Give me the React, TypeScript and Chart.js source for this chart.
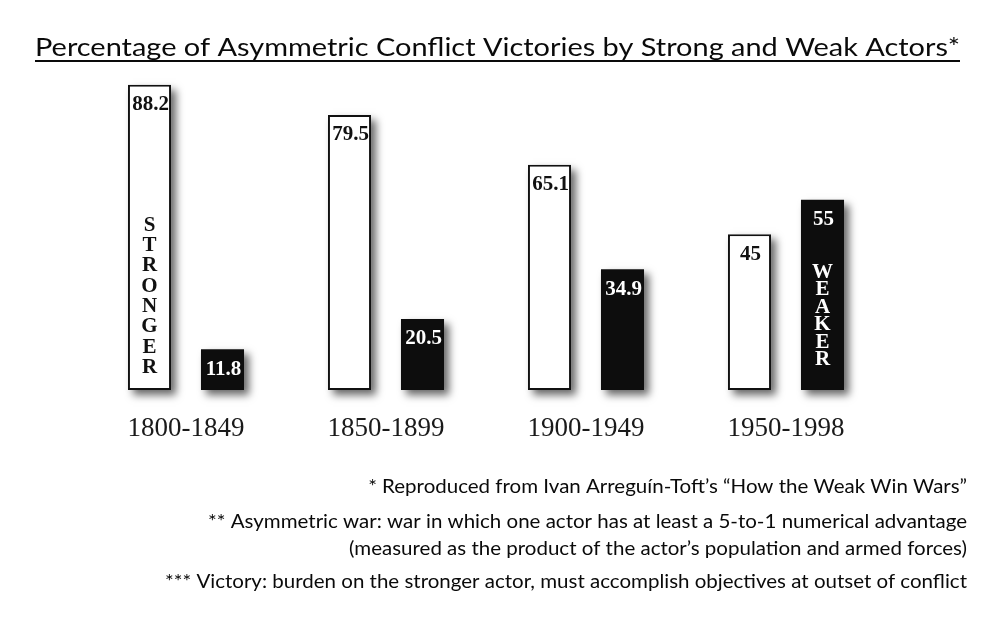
import React, { useEffect, useRef } from "react";
import { Chart, registerables } from "chart.js";

Chart.register(...registerables);

const periods = ["1800-1849", "1850-1899", "1900-1949", "1950-1998"];
const strongerWins = [88.2, 79.5, 65.1, 45];
const weakerWins = [11.8, 20.5, 34.9, 55];
const seriesNames = ["Stronger actor", "Weaker actor"];
const barWords = [
  { dataset: 0, index: 0, word: "STRONGER" },
  { dataset: 1, index: 3, word: "WEAKER" },
];
const titleText =
  "Percentage of Asymmetric Conflict Victories by Strong and Weak Actors*";
const footnotes = [
  "* Reproduced from Ivan Arreguín-Toft’s “How the Weak Win Wars”",
  "** Asymmetric war: war in which one actor has at least a 5-to-1 numerical advantage",
  "(measured as the product of the actor’s population and armed forces)",
  "*** Victory: burden on the stronger actor, must accomplish objectives at outset of conflict",
];

const SERIF = "'Liberation Serif', 'Times New Roman', serif";
const SANS = "Lato, 'Open Sans', sans-serif";

const decorPlugin = {
  id: "decor",
  beforeDatasetsDraw(chart: any) {
    const ctx = chart.ctx;
    chart.data.datasets.forEach((_d: any, di: number) => {
      const meta = chart.getDatasetMeta(di);
      meta.data.forEach((el: any) => {
        const { x, y, base, width } = el.getProps(["x", "y", "base", "width"], true);
        ctx.save();
        ctx.shadowColor = "rgba(0,0,0,0.6)";
        ctx.shadowBlur = 8;
        ctx.shadowOffsetX = 5;
        ctx.shadowOffsetY = 5;
        ctx.fillStyle = "#ffffff";
        ctx.fillRect(x - width / 2, y, width, base - y);
        ctx.restore();
      });
    });
  },
  afterDatasetsDraw(chart: any) {
    const ctx = chart.ctx;
    ctx.save();
    ctx.textAlign = "center";
    ctx.textBaseline = "middle";
    chart.data.datasets.forEach((ds: any, di: number) => {
      const meta = chart.getDatasetMeta(di);
      meta.data.forEach((el: any, i: number) => {
        const { x, y } = el.getProps(["x", "y"], true);
        ctx.font = `bold 21px ${SERIF}`;
        ctx.fillStyle = di === 0 ? "#111111" : "#ffffff";
        ctx.fillText(String(ds.data[i]), x + 1, y + 20);
      });
    });
    barWords.forEach((bw, k) => {
      const el = chart.getDatasetMeta(bw.dataset).data[bw.index];
      const { x, base } = el.getProps(["x", "base"], true);
      const step = k === 0 ? 20.3 : 17.4;
      const endOff = k === 0 ? 22.5 : 30.5;
      const letters = bw.word.split("");
      const n = letters.length;
      ctx.font = `bold 21px ${SERIF}`;
      ctx.fillStyle = bw.dataset === 0 ? "#111111" : "#ffffff";
      letters.forEach((ch, i) => {
        ctx.fillText(ch, x, base - endOff - (n - 1 - i) * step);
      });
    });
    ctx.restore();
  },
  afterDraw(chart: any) {
    const ctx = chart.ctx;
    ctx.save();
    ctx.fillStyle = "#0a0a0a";
    // Title
    ctx.font = `25px ${SANS}`;
    const tw = ctx.measureText(titleText).width;
    const tsx = 925 / tw;
    const cx = 497.5;
    ctx.save();
    ctx.translate(cx, 56);
    ctx.scale(tsx, 1);
    ctx.textAlign = "center";
    ctx.textBaseline = "alphabetic";
    ctx.fillText(titleText, 0, 0);
    ctx.restore();
    ctx.fillRect(cx - 925 / 2, 60, 925, 2);
    // Footnotes
    ctx.font = `18.5px ${SANS}`;
    const fw = ctx.measureText(footnotes[3]).width;
    const fsx = 802 / fw;
    const ys = [487, 522, 549, 582];
    footnotes.forEach((t, i) => {
      ctx.save();
      ctx.translate(967, ys[i]);
      ctx.scale(fsx, 1);
      ctx.textAlign = "right";
      ctx.textBaseline = "middle";
      ctx.fillText(t, 0, 0);
      ctx.restore();
    });
    ctx.restore();
  },
};

export default function App() {
  const ref = useRef<HTMLCanvasElement | null>(null);
  useEffect(() => {
    document.body.style.margin = "0";
    if (!ref.current) return;
    const chart = new Chart(ref.current, {
      type: "bar",
      data: {
        labels: periods,
        datasets: [
          {
            label: seriesNames[0],
            data: strongerWins,
            backgroundColor: "#ffffff",
            borderColor: "#111111",
            borderWidth: 2,
            borderSkipped: false,
          },
          {
            label: seriesNames[1],
            data: weakerWins,
            backgroundColor: "#0d0d0d",
            borderWidth: 0,
          },
        ],
      },
      options: {
        responsive: false,
        animation: false,
        devicePixelRatio: 1,
        layout: { padding: { top: 44, left: 86, right: 114, bottom: 149.6 } },
        datasets: { bar: { categoryPercentage: 0.73, barPercentage: 0.59 } },
        plugins: {
          legend: { display: false },
          tooltip: { enabled: false },
          title: { display: false },
        },
        scales: {
          x: {
            grid: { display: false, drawTicks: false, tickLength: 0 },
            border: { display: false },
            ticks: {
              font: { family: SERIF, size: 27 },
              color: "#1a1a1a",
              padding: 23,
            },
          },
          y: { display: false, min: 0, max: 100 },
        },
      },
      plugins: [decorPlugin],
    });
    return () => chart.destroy();
  }, []);
  return (
    <div style={{ width: 1000, height: 618, background: "#fff" }}>
      <canvas ref={ref} width={1000} height={618} />
    </div>
  );
}
